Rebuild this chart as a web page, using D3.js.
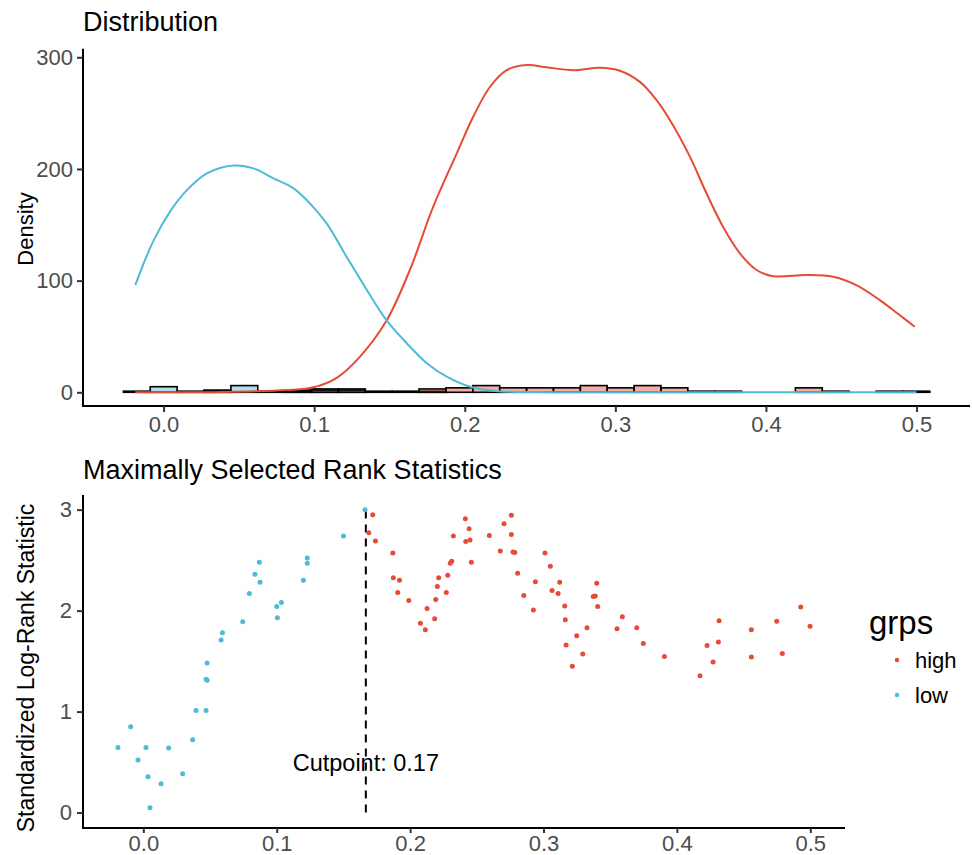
<!DOCTYPE html>
<html>
<head>
<meta charset="utf-8">
<script src="https://cdn.jsdelivr.net/npm/d3@7"></script>
<style>
  body { margin: 0; background: #fff; }
  text { font-family: "Liberation Sans", Arial, sans-serif; }
</style>
</head>
<body>
<div id="chart"></div>
<script>
// ---- data ----

// histogram (30 bins), counts per group
var binMin = -0.0267, binWidth = 0.01785;
var lowCounts  = [1,5,1,2,6,1,2,3,3,1,1,1,0,0,0,0,0,0,0,0,0,0,0,0,0,0,0,0,0,0];
var highCounts = [0,0,0,1,0,0,1,2,2,0,0,3,4,6,4,4,4,6,4,6,4,1,1,0,0,4,1,0,1,1];

// density curves
var lowDensX = [-0.0188,-0.0066,0.0044,0.0155,0.0288,0.0464,0.0597,0.073,0.0863,0.0973,0.1084,0.1217,0.135,0.148,0.1615,0.1748,0.188,0.2035,0.22,0.25,0.3,0.4,0.5];
var lowDensY = [96,136,162,181,196,203,200.5,191.6,182.6,169,151,121,91.6,64.7,43.9,26,14,5,1.2,0.2,0,0,0];
var highDensX = [-0.0188,0.04,0.082,0.0995,0.115,0.1305,0.148,0.1637,0.179,0.1947,0.2057,0.2168,0.2279,0.2411,0.2544,0.272,0.2898,0.303,0.3163,0.3274,0.3384,0.3495,0.3606,0.3716,0.3827,0.3938,0.4048,0.427,0.4446,0.46,0.4756,0.4889,0.4988];
var highDensY = [0,0.3,2,4.5,13,32,64,110,166,214,247,273.6,288.5,293,291,288.5,290.6,288,278,261.7,239,211,178,148,124.4,109.5,104,105,103.5,96,82.6,69,58.7];

// maximally selected rank statistics
var lowX = [-0.019,-0.0095,-0.004,0.002,0.0035,0.005,0.0133,0.019,0.0295,0.037,0.0395,0.047,0.047,0.0478,0.0478,0.0583,0.0593,0.0745,0.0795,0.0837,0.087,0.0875,0.1,0.1005,0.1035,0.12,0.1229,0.1229,0.15,0.1662];
var lowY = [0.645,0.85,0.52,0.645,0.355,0.048,0.285,0.64,0.385,0.72,1.01,1.01,1.32,1.31,1.48,1.71,1.78,1.89,2.17,2.36,2.48,2.28,2.04,1.93,2.08,2.3,2.47,2.52,2.74,3.0];
var highX = [0.169,0.172,0.174,0.187,0.1874,0.1907,0.192,0.199,0.2077,0.2114,0.2127,0.2184,0.2192,0.2204,0.2214,0.2271,0.2282,0.2301,0.2312,0.2324,0.2414,0.2417,0.2442,0.2449,0.2459,0.2594,0.2676,0.2704,0.2759,0.2759,0.2771,0.2785,0.2806,0.2852,0.2924,0.2939,0.3011,0.3051,0.3064,0.3109,0.3121,0.3159,0.3163,0.3169,0.3216,0.3249,0.3294,0.3326,0.3373,0.3388,0.3399,0.3406,0.3551,0.3591,0.3699,0.3748,0.3906,0.4173,0.4226,0.4271,0.4311,0.4316,0.4558,0.4558,0.4748,0.479,0.4928,0.4998];
var highY = [2.77,2.95,2.69,2.57,2.325,2.18,2.30,2.10,1.876,1.81,2.02,1.92,2.11,2.24,2.325,2.18,2.35,2.47,2.49,2.74,2.91,2.685,2.81,2.70,2.48,2.745,2.59,2.86,2.945,2.755,2.58,2.575,2.37,2.15,2.005,2.285,2.57,2.44,2.20,2.17,2.28,2.045,1.91,1.66,1.45,1.75,1.57,1.83,2.14,2.145,2.27,2.04,1.82,1.94,1.83,1.675,1.545,1.355,1.655,1.49,1.69,1.90,1.81,1.54,1.895,1.575,2.035,1.845];

var cutpoint = 0.1668;
var topXTicks = [0, 0.1, 0.2, 0.3, 0.4, 0.5];
var topYTicks = [0, 100, 200, 300];
var botXTicks = [0, 0.1, 0.2, 0.3, 0.4, 0.5];
var botYTicks = [0, 1, 2, 3];
var groups = ["high", "low"];
var colors = {high: "#E64B35", low: "#4DBBD5"};

// ---- svg ----
var svg = d3.select("#chart")
  .append("svg")
    .attr("width", 972)
    .attr("height", 855);

function styleAxis(g) {
  g.selectAll(".domain").attr("stroke", "#000").attr("stroke-width", 2);
  g.selectAll(".tick line").attr("stroke", "#333").attr("stroke-width", 2);
  g.selectAll(".tick text")
    .attr("fill", "#4D4D4D")
    .style("font-size", "22px");
}

// ===== top panel: Distribution =====
var x1 = d3.scaleLinear().domain([-0.0535, 0.5355]).range([83, 970]);
var y1 = d3.scaleLinear().domain([-14.6, 307.6]).range([408.6, 48.8]);

svg.append("text")
  .attr("x", 83).attr("y", 31)
  .style("font-size", "27px")
  .text("Distribution");

// histogram bars, drawn per group on top of each other
var bins = lowCounts.map(function (c, i) {
  return {x0: binMin + i * binWidth, x1: binMin + (i + 1) * binWidth, low: c, high: highCounts[i]};
});

["low", "high"].forEach(function (grp) {
  svg.append("g")
    .selectAll("rect")
    .data(bins)
    .enter()
    .append("rect")
      .attr("x", function (d) { return x1(d.x0); })
      .attr("width", function (d) { return x1(d.x1) - x1(d.x0); })
      .attr("y", function (d) { return y1(d[grp]); })
      .attr("height", function (d) { return y1(0) - y1(d[grp]); })
      .attr("fill", colors[grp])
      .attr("fill-opacity", 0.45)
      .attr("stroke", "#000")
      .attr("stroke-width", 1.6);
});

var densLine = d3.line()
  .x(function (d) { return x1(d[0]); })
  .y(function (d) { return y1(d[1]); })
  .curve(d3.curveCatmullRom.alpha(0.5));

svg.append("path")
  .datum(d3.zip(highDensX, highDensY))
  .attr("d", densLine)
  .attr("fill", "none")
  .attr("stroke", colors.high)
  .attr("stroke-width", 2);

svg.append("path")
  .datum(d3.zip(lowDensX, lowDensY))
  .attr("d", densLine)
  .attr("fill", "none")
  .attr("stroke", colors.low)
  .attr("stroke-width", 2);

var gx1 = svg.append("g")
  .attr("transform", "translate(0,406)")
  .call(d3.axisBottom(x1).tickValues(topXTicks).tickFormat(d3.format(".1f")).tickSize(6).tickPadding(4));
styleAxis(gx1);
gx1.select(".domain").attr("d", "M83,0H970");

var gy1 = svg.append("g")
  .attr("transform", "translate(83,0)")
  .call(d3.axisLeft(y1).tickValues(topYTicks).tickSize(6).tickPadding(4));
styleAxis(gy1);
gy1.select(".domain").attr("d", "M0,48.8V407");

svg.append("text")
  .attr("transform", "translate(33,229) rotate(-90)")
  .attr("text-anchor", "middle")
  .style("font-size", "22px")
  .text("Density");

// ===== bottom panel: Maximally Selected Rank Statistics =====
var x2 = d3.scaleLinear().domain([-0.045, 0.526]).range([83.3, 845]);
var y2 = d3.scaleLinear().domain([-0.15, 3.145]).range([827.7, 495]);

svg.append("text")
  .attr("x", 83).attr("y", 479)
  .style("font-size", "27px")
  .text("Maximally Selected Rank Statistics");

svg.append("line")
  .attr("x1", x2(cutpoint)).attr("x2", x2(cutpoint))
  .attr("y1", y2(0)).attr("y2", y2(3))
  .attr("stroke", "#000")
  .attr("stroke-width", 2)
  .attr("stroke-dasharray", "8,6");

var pts = lowX.map(function (v, i) { return {x: v, y: lowY[i], g: "low"}; })
  .concat(highX.map(function (v, i) { return {x: v, y: highY[i], g: "high"}; }));

svg.append("g")
  .selectAll("circle")
  .data(pts)
  .enter()
  .append("circle")
    .attr("cx", function (d) { return x2(d.x); })
    .attr("cy", function (d) { return y2(d.y); })
    .attr("r", 2.5)
    .style("fill", function (d) { return colors[d.g]; });

svg.append("text")
  .attr("x", x2(cutpoint)).attr("y", y2(0.47))
  .attr("text-anchor", "middle")
  .attr("dominant-baseline", "middle")
  .style("font-size", "23.5px")
  .text("Cutpoint: 0.17");

var gx2 = svg.append("g")
  .attr("transform", "translate(0,828)")
  .call(d3.axisBottom(x2).tickValues(botXTicks).tickFormat(d3.format(".1f")).tickSize(5).tickPadding(2));
styleAxis(gx2);
gx2.select(".domain").attr("d", "M83,0H845");

var gy2 = svg.append("g")
  .attr("transform", "translate(83,0)")
  .call(d3.axisLeft(y2).tickValues(botYTicks).tickFormat(d3.format("d")).tickSize(6).tickPadding(5));
styleAxis(gy2);
gy2.select(".domain").attr("d", "M0,495V829");

svg.append("text")
  .attr("transform", "translate(34,668) rotate(-90)")
  .attr("text-anchor", "middle")
  .style("font-size", "23px")
  .text("Standardized Log-Rank Statistic");

// legend
var legend = svg.append("g");
legend.append("text")
  .attr("x", 869).attr("y", 634)
  .style("font-size", "33px")
  .text("grps");

var items = legend.selectAll(".item")
  .data(groups)
  .enter()
  .append("g")
    .attr("transform", function (d, i) { return "translate(897," + (660 + i * 35) + ")"; });
items.append("circle")
  .attr("r", 2.2)
  .style("fill", function (d) { return colors[d]; });
items.append("text")
  .attr("x", 18)
  .attr("dy", "0.35em")
  .style("font-size", "22px")
  .text(function (d) { return d; });
</script>
</body>
</html>
